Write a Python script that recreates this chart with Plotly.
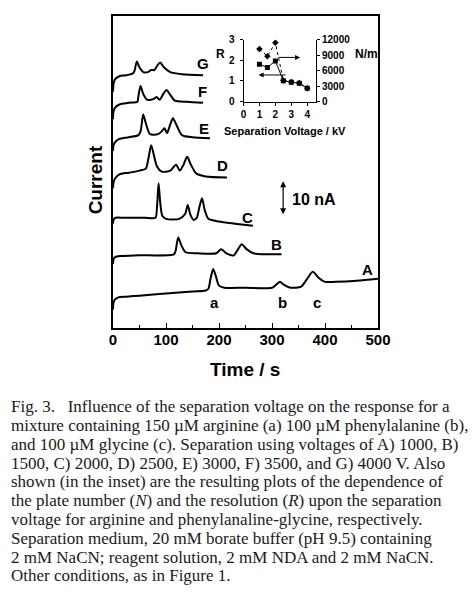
import plotly.graph_objects as go

# electropherograms, time in s and current in nA (offset per trace)
t_a = [0, 1, 4, 10, 25, 50, 100, 150, 175, 180, 184, 189, 194, 200, 210, 250, 300,
       308, 315, 322, 335, 355, 365, 377, 388, 400, 420, 460, 500]
i_a = [5.4, 7.4, 8.3, 8.9, 9.1, 9.4, 10.0, 10.6, 10.9, 11.4, 14.3, 17.1, 15.1, 12.3,
       11.7, 11.7, 11.7, 12.6, 13.4, 12.6, 11.7, 12.0, 14.0, 16.3, 14.6, 13.4, 13.4,
       13.7, 14.3]

t_b = [0, 1, 4, 15, 50, 115, 118, 123, 129, 137, 160, 195, 204, 214, 228, 236, 243,
       252, 265, 290, 318]
i_b = [18.6, 20.0, 20.6, 20.9, 21.1, 21.4, 22.3, 26.3, 24.0, 22.0, 21.7, 21.7, 22.9,
       21.7, 21.1, 22.9, 24.3, 22.9, 21.7, 21.4, 21.4]

t_c = [0, 1, 5, 20, 60, 80, 83, 86, 89, 93, 100, 125, 136, 141, 146, 152, 158, 163,
       168, 173, 180, 200, 230, 264]
i_c = [30.3, 31.4, 32.0, 32.0, 32.0, 32.0, 35.1, 42.0, 36.6, 32.6, 31.7, 31.7, 33.1,
       35.7, 32.9, 31.4, 32.0, 35.1, 37.7, 34.3, 31.7, 30.9, 30.3, 29.7]

t_d = [0, 1, 4, 12, 30, 50, 62, 67, 72, 77, 83, 92, 108, 119, 126, 133, 140, 147,
       157, 175, 215]
i_d = [40.6, 42.3, 43.4, 44.6, 45.1, 45.7, 46.3, 49.4, 53.1, 50.3, 46.9, 45.4, 45.7,
       47.4, 45.7, 47.4, 49.7, 47.4, 44.9, 44.0, 43.7]

t_e = [0, 1, 4, 12, 30, 48, 52, 57, 62, 70, 85, 92, 97, 102, 108, 113, 120, 130,
       150, 183]
i_e = [51.4, 53.1, 54.0, 54.9, 55.4, 56.0, 57.1, 62.0, 59.4, 56.3, 56.3, 57.1, 58.0,
       56.6, 59.1, 60.9, 58.9, 56.0, 55.4, 55.1]

t_f = [0, 1, 4, 12, 30, 46, 48, 52, 57, 64, 72, 78, 82, 88, 95, 101, 108, 117, 140, 170]
i_f = [60.6, 62.9, 64.0, 64.9, 65.4, 65.7, 67.4, 70.3, 68.0, 66.3, 66.3, 66.6, 67.1,
       66.3, 68.0, 69.1, 67.7, 66.0, 65.7, 65.4]

t_g = [0, 1, 4, 12, 25, 38, 41, 45, 50, 57, 66, 72, 78, 84, 89, 96, 108, 130, 170]
i_g = [68.6, 70.9, 72.3, 73.1, 73.4, 74.0, 74.9, 77.4, 75.7, 74.3, 74.3, 74.9, 74.9,
       76.3, 77.1, 75.7, 74.3, 73.7, 73.4]

# inset: resolution R and plate number N/m vs separation voltage
kv = [1, 1.5, 2, 2.5, 3, 3.5, 4]
resolution = [1.81, 1.65, 1.97, 1.01, 0.94, 0.89, 0.65]
plates = [10200, 8800, 11400, 4100, 3800, 3600, 2600]

trace_labels = ["A", "B", "C", "D", "E", "F", "G"]
label_t = [481, 308, 253, 206, 172, 168, 170]
label_i = [17.1, 24.3, 32.0, 47.1, 58.0, 68.6, 76.9]

peak_labels = ["a", "b", "c"]
peak_t = [192, 320, 384]
peak_i = 7.4

caption = [
    "Fig. 3.   Influence of the separation voltage on the response for a",
    "mixture containing 150 µM arginine (a) 100 µM phenylalanine (b),",
    "and 100 µM glycine (c). Separation using voltages of A) 1000, B)",
    "1500, C) 2000, D) 2500, E) 3000, F) 3500, and G) 4000 V. Also",
    "shown (in the inset) are the resulting plots of the dependence of",
    "the plate number (<i>N</i>) and the resolution (<i>R</i>) upon the separation",
    "voltage for arginine and phenylanaline-glycine, respectively.",
    "Separation medium, 20 mM borate buffer (pH 9.5) containing",
    "2 mM NaCN; reagent solution, 2 mM NDA and 2 mM NaCN.",
    "Other conditions, as in Figure 1.",
]

W, H = 474, 595
L, R, T, B = 113, 96, 11, 267
PW, PH = W - L - R, H - T - B


def px(x, y):
    # page pixel -> paper coords of the main plot
    return (x - L) / PW, (H - B - y) / PH


SANS = "Liberation Sans"
BOLD = dict(family=SANS, color="black", weight="bold")

fig = go.Figure()

for t, i in [(t_a, i_a), (t_b, i_b), (t_c, i_c), (t_d, i_d),
             (t_e, i_e), (t_f, i_f), (t_g, i_g)]:
    fig.add_trace(go.Scatter(
        x=t, y=i, mode="lines",
        line=dict(color="black", width=2, shape="spline", smoothing=0.7),
        showlegend=False, hoverinfo="skip",
    ))

fig.add_trace(go.Scatter(
    x=kv, y=resolution, xaxis="x2", yaxis="y2", mode="lines+markers",
    line=dict(color="black", width=1),
    marker=dict(symbol="square", size=5, color="black"),
    showlegend=False,
))
fig.add_trace(go.Scatter(
    x=kv, y=plates, xaxis="x2", yaxis="y3", mode="lines+markers",
    line=dict(color="black", width=1, dash="dot"),
    marker=dict(symbol="diamond", size=5, color="black"),
    showlegend=False,
))

ann = []
for lab, x, y in zip(trace_labels, label_t, label_i):
    ann.append(dict(x=x, y=y, xref="x", yref="y", text=lab, showarrow=False,
                    font=dict(size=15, **BOLD)))
for lab, x in zip(peak_labels, peak_t):
    ann.append(dict(x=x, y=peak_i, xref="x", yref="y", text=lab, showarrow=False,
                    font=dict(size=15, **BOLD)))

# 10 nA scale bar
ann.append(dict(x=321, y=42.6, ax=321, ay=32.6, xref="x", yref="y", axref="x", ayref="y",
                text="", showarrow=True, arrowside="end+start", arrowhead=2,
                arrowsize=1, arrowwidth=1.2, arrowcolor="black"))
ann.append(dict(x=334, y=37.4, xref="x", yref="y", text="10 nA", showarrow=False,
                xanchor="left", font=dict(size=16, **BOLD)))

# inset arrows
ann.append(dict(x=3.55, y=2.14, ax=2.1, ay=2.14, xref="x2", yref="y2", axref="x2",
                ayref="y2", text="", showarrow=True, arrowhead=2, arrowsize=1,
                arrowwidth=1, arrowcolor="black"))
ann.append(dict(x=0.95, y=1.29, ax=2.73, ay=1.29, xref="x2", yref="y2", axref="x2",
                ayref="y2", text="", showarrow=True, arrowhead=2, arrowsize=1,
                arrowwidth=1, arrowcolor="black"))

for text, (x, y), size, angle in [
    ("Time / s", px(245, 370), 19, 0),
    ("Current", px(95, 178), 19, -90),
    ("Separation Voltage / kV", px(285, 128), 11, 0),
    ("R", px(220, 50), 12, 0),
    ("N/m", px(366, 50), 12, 0),
]:
    ann.append(dict(x=x, y=y, xref="paper", yref="paper", text=text, showarrow=False,
                    xanchor="center", yanchor="middle", textangle=angle,
                    font=dict(size=size, **BOLD)))

for k, line in enumerate(caption):
    x, y = px(9, 408 + 19.1 * k)
    ann.append(dict(x=x, y=y, xref="paper", yref="paper", text=line, showarrow=False,
                    xanchor="left", yanchor="middle",
                    font=dict(family="Liberation Serif", size=17, color="#1a1a1a")))

ix0, _ = px(243.5, 0)
ix1, _ = px(316, 0)
_, iy0 = px(0, 98)
_, iy1 = px(0, 35)

inset_tick = dict(size=10, **BOLD)

fig.update_layout(
    width=W, height=H, autosize=False,
    margin=dict(l=L, r=R, t=T, b=B, pad=0),
    paper_bgcolor="white", plot_bgcolor="white",
    showlegend=False,
    xaxis=dict(
        range=[0, 500], showline=True, linecolor="black", linewidth=1.5, mirror=True,
        ticks="inside", ticklen=5, tickwidth=1.2, tickcolor="black", dtick=100,
        minor=dict(ticks="inside", ticklen=3, dtick=50, tickcolor="black", tickwidth=1),
        tickfont=dict(size=15, **BOLD), ticklabelstandoff=-3,
        showgrid=False, zeroline=False,
    ),
    yaxis=dict(
        range=[0, 90.6], showline=True, linecolor="black", linewidth=1.5, mirror=True,
        showticklabels=False, ticks="", showgrid=False, zeroline=False,
    ),
    xaxis2=dict(
        domain=[ix0, ix1], anchor="y2", range=[0, 4.55], showline=True,
        linecolor="black", linewidth=1, ticks="outside", ticklen=3, tickcolor="black",
        dtick=1, tickfont=inset_tick, showgrid=False, zeroline=False,
    ),
    yaxis2=dict(
        domain=[iy0, iy1], anchor="x2", range=[0, 3], showline=True,
        linecolor="black", linewidth=1, ticks="outside", ticklen=3, tickcolor="black",
        dtick=1, tickfont=inset_tick, ticklabelstandoff=3, showgrid=False,
        zeroline=False,
    ),
    yaxis3=dict(
        overlaying="y2", side="right", anchor="x2", range=[0, 12000], showline=True,
        linecolor="black", linewidth=1, ticks="outside", ticklen=3, tickcolor="black",
        dtick=3000, tickformat="d", tickfont=inset_tick, showgrid=False,
        zeroline=False,
    ),
    annotations=ann,
)

fig.write_html("out.html", config={"displayModeBar": False},
               post_script="document.body.style.margin = '0';")
